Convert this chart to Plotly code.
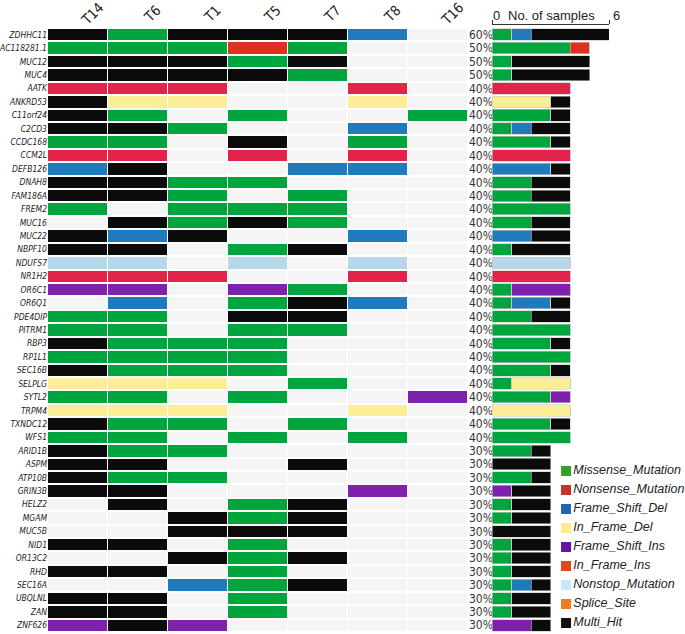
import numpy as np
import plotly.graph_objects as go

W, H = 685, 634

samples = ["T14", "T6", "T1", "T5", "T7", "T8", "T16"]
n_cohort = 10  # cohort size used for the percentage labels

genes = ["ZDHHC11", "AC118281.1", "MUC12", "MUC4", "AATK", "ANKRD53", "C11orf24", "C2CD3",
         "CCDC168", "CCM2L", "DEFB126", "DNAH8", "FAM186A", "FREM2", "MUC16", "MUC22",
         "NBPF10", "NDUFS7", "NR1H2", "OR6C1", "OR6Q1", "PDE4DIP", "PITRM1", "RBP3",
         "RP1L1", "SEC16B", "SELPLG", "SYTL2", "TRPM4", "TXNDC12", "WFS1", "ARID1B",
         "ASPM", "ATP10B", "GRIN3B", "HELZ2", "MGAM", "MUC5B", "NID1", "OR13C2", "RHD",
         "SEC16A", "UBQLNL", "ZAN", "ZNF626"]

# one string per gene, one symbol per sample (T14, T6, T1, T5, T7, T8, T16)
# M missense, N nonsense, D frame-shift del, d in-frame del, I frame-shift ins,
# i in-frame ins, S nonstop, P splice site, X multi hit, . none
calls = ["XMXXXD.", "MMMiM..", "XXXMX..", "XXXXM..", "NNN..N.", "Xdd..d.", "XM.M..M",
         "XXM..D.", "MM.X.M.", "NN.N.N.", "DX..DD.", "XXMM...", "XXM.M..", "M.MMM..",
         ".XMXM..", "XDX..D.", "XX.MX..", "SS.S.S.", "NNN..N.", "II.IM..", ".D.MXD.",
         "MM.XX..", "MM.MM..", "XMMM...", "MMMM...", "XMMM...", "ddd.M..", "MM.M..I",
         "ddd..d.", "XMM.M..", "MM.M.M.", "XMM....", "XX..X..", "XMM....", "XX...I.",
         ".X.MX..", "..XMX..", "..XXX..", "XX.M...", "..XMX..", "XX.M...", "..DMX..",
         "XX.M...", "XX.M...", "IXI...."]

categories = ["Missense_Mutation", "Nonsense_Mutation", "Frame_Shift_Del", "In_Frame_Del",
              "Frame_Shift_Ins", "In_Frame_Ins", "Nonstop_Mutation", "Splice_Site", "Multi_Hit"]
symbols = ["M", "N", "D", "d", "I", "i", "S", "P", "X"]
cell_colors = ["#00a63d", "#e2244a", "#1f7bbd", "#fbee96", "#7e22ad", "#df2f1f",
               "#b6d8ea", "#f47920", "#0b0b0b"]
legend_colors = ["#33a02c", "#c8302a", "#2466b2", "#fcea8d", "#6a12a0", "#e0471a",
                 "#c9e8f6", "#f27a1f", "#111111"]
empty_color = "#f5f5f5"

code_of = {s: i + 1 for i, s in enumerate(symbols)}
code_of["."] = 0
z = np.array([[code_of[c] for c in row] for row in calls])
nrow, ncol = z.shape
yidx = list(range(nrow))

all_colors = [empty_color] + cell_colors
nc = len(all_colors)
cscale = []
for i, c in enumerate(all_colors):
    cscale.append([i / nc, c])
    cscale.append([(i + 1) / nc, c])

def px_y(p):
    return 1 - p / H

narrow = "Liberation Sans Narrow, Arial Narrow, DejaVu Sans Condensed, sans-serif"

fig = go.Figure()
fig.add_trace(go.Heatmap(z=z, x=list(range(ncol)), y=yidx, colorscale=cscale,
                         zmin=-0.5, zmax=nc - 0.5, showscale=False, xgap=1, ygap=2,
                         hoverinfo="skip"))

# right-hand stacked bars (number of samples per mutation class)
for k, (cat, col) in enumerate(zip(categories, cell_colors)):
    counts = (z == k + 1).sum(axis=1)
    if counts.sum() == 0:
        continue
    fig.add_trace(go.Bar(x=counts, y=yidx, orientation="h", marker_color=col,
                         marker_line_width=0.6, marker_line_color="#c8c8c8",
                         width=0.86, xaxis="x2", yaxis="y", name=cat, hoverinfo="skip"))

pct = [f"{int(round(100 * v / n_cohort))}%" for v in (z > 0).sum(axis=1)]
fig.add_trace(go.Scatter(x=[None], y=[0], yaxis="y2", xaxis="x", showlegend=False))

# legend drawn as its own small panel
fig.add_trace(go.Scatter(x=[0.085] * len(categories), y=list(range(len(categories))),
                         xaxis="x3", yaxis="y3", mode="markers+text",
                         marker=dict(symbol="square", size=10, color=legend_colors),
                         text=categories, textposition="middle right",
                         textfont=dict(family="Liberation Sans, Arial, sans-serif", size=12.5,
                                       color="#222", style="italic"),
                         cliponaxis=False, hoverinfo="skip"))

fig.update_layout(
    width=W, height=H, margin=dict(l=0, r=0, t=0, b=0, autoexpand=False),
    plot_bgcolor="white", paper_bgcolor="white", showlegend=False, barmode="stack",
    xaxis=dict(domain=[48 / W, 468 / W], range=[-0.5, ncol - 0.5], side="top",
               showticklabels=False, ticks="", showgrid=False, zeroline=False,
               automargin=False),
    yaxis=dict(domain=[2 / H, 606 / H], range=[nrow - 0.5, -0.5], tickmode="array",
               tickvals=yidx, ticktext=genes, ticks="", showgrid=False, zeroline=False,
               automargin=False, ticklabelstandoff=0,
               tickfont=dict(family=narrow, size=8.5, color="#222", style="italic")),
    yaxis2=dict(overlaying="y", side="right", anchor="x", range=[nrow - 0.5, -0.5],
                tickmode="array", tickvals=yidx, ticktext=pct, ticks="", showgrid=False,
                zeroline=False, automargin=False,
                tickfont=dict(family=narrow, size=12, color="#333")),
    xaxis2=dict(domain=[492 / W, 609 / W], range=[0, 6], anchor="free",
                position=px_y(24), side="top", showline=True, linecolor="#333",
                linewidth=1, ticks="outside", ticklen=4, tickcolor="#333",
                tickvals=[0, 6], showticklabels=False, showgrid=False, zeroline=False,
                automargin=False),
    xaxis3=dict(domain=[555 / W, 1], range=[0, 1], visible=False, automargin=False),
    yaxis3=dict(domain=[px_y(632.5), px_y(461.5)], range=[8.5, -0.5], visible=False,
                anchor="x3", automargin=False),
)

# rotated sample labels above the columns
for i, s in enumerate(samples):
    fig.add_annotation(x=i, y=px_y(14), xref="x", yref="paper", text=s, showarrow=False,
                       textangle=-45, xshift=14, xanchor="center", yanchor="middle",
                       font=dict(family=narrow, size=14, color="#222"))

lab_font = dict(family="Liberation Sans, Arial, sans-serif", size=13, color="#222")
fig.add_annotation(x=0, y=px_y(16), xref="x2", yref="paper", text="0", showarrow=False,
                   xanchor="left", yanchor="middle", xshift=-1, font=lab_font)
fig.add_annotation(x=3.05, y=px_y(16), xref="x2", yref="paper", text="No. of samples",
                   showarrow=False, xanchor="center", yanchor="middle", font=lab_font)
fig.add_annotation(x=6, y=px_y(16), xref="x2", yref="paper", text="6", showarrow=False,
                   xanchor="left", yanchor="middle", xshift=2, font=lab_font)

fig.write_html("out.html", config={"displayModeBar": False},
               post_script="document.body.style.margin='0px';"
                           "document.body.style.overflow='hidden';")
